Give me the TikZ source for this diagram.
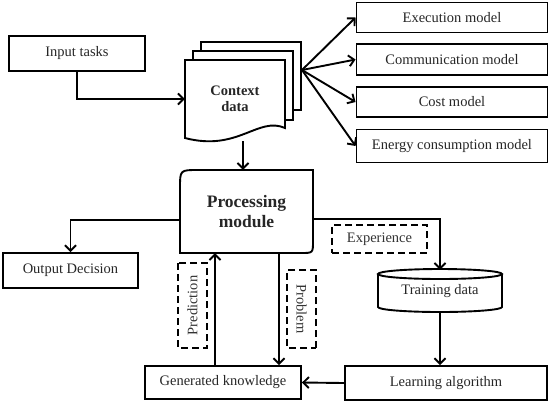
\documentclass[tikz,border=0pt]{standalone}
\usepackage{fontspec}
\setmainfont{Liberation Serif}
\usetikzlibrary{arrows.meta}
\newcommand\myfs{\fontsize{14.5}{17}\selectfont}
\newcommand\mybig{\fontsize{17.5}{20}\selectfont\bfseries}
\tikzset{
  box/.style={draw, line width=1.9pt, rectangle, inner sep=0pt, font=\myfs, text=black!85},
  lbl/.style={draw, line width=1.9pt, dash pattern=on 7pt off 4pt, inner sep=0pt, font=\myfs, text=black!80},
  arr/.style={line width=1.9pt, -{Straight Barb[length=5.5pt,width=11pt,line width=1.9pt]}},
  shp/.style={line width=1.9pt, fill=white},
  plain/.style={inner sep=0pt, align=center}
}
\begin{document}
\begin{tikzpicture}[x=1pt,y=-1pt]
\useasboundingbox[fill=white] (0,0) rectangle (553,408);

% left / right boxes
\node[box, minimum width=136pt, minimum height=35pt] (inp) at (77,53.5) {Input tasks};
\node[box, minimum width=191pt, minimum height=30pt] (exe) at (452,17.5) {Execution model};
\node[box, minimum width=191pt, minimum height=31pt] (com) at (452,59.5) {Communication model};
\node[box, minimum width=191pt, minimum height=30pt] (cost) at (452,102) {Cost model};
\node[box, minimum width=191pt, minimum height=33pt] (ene) at (452,146) {Energy consumption model};

% context data (stacked documents)
\draw[shp] (201,42) rectangle (301,110);
\draw[shp] (193,51) rectangle (293,120);
\draw[shp] (185,60) -- (285,60) -- (285,128) .. controls (258,116) and (238,152) .. (185,138) -- cycle;
\node[plain, minimum width=100pt, minimum height=84pt, font=\myfs\bfseries, text=black!85] (ctx) at (235,99) {Context\\[-1pt]data};
\coordinate (fan) at (302,70);

\draw[arr] (inp.south) |- (ctx.west);
\foreach \t in {exe,com,cost,ene} \draw[arr] (fan) -- (\t.west);

% processing module
\node[plain, minimum width=133pt, minimum height=83pt, font=\mybig, text=black!85] (proc) at (246.5,211.5) {Processing\\module};
\draw[line width=1.9pt] (313,170) -- (198,170) .. controls (180,170) .. (180,188) -- (180,253) -- (301,253) .. controls (313,253) .. (313,241) -- cycle;

\draw[arr] ([xshift=8pt]ctx.south) -- ([xshift=8pt]ctx.south |- proc.north);

% output
\node[box, minimum width=135pt, minimum height=35pt] (out) at (70.5,270.5) {Output Decision};
\draw[arr] ([yshift=-8.5pt]proc.west) -| (out.north);

% learning loop
\node[box, minimum width=156pt, minimum height=33pt] (gen) at (223,382.5) {Generated knowledge};
\node[box, minimum width=202pt, minimum height=34pt] (learn) at (446,383) {Learning algorithm};
\node[plain, minimum width=124pt, minimum height=42pt, font=\myfs, text=black!85] (train) at (440,291) {\raisebox{-2pt}{Training data}};
\draw[line width=1.9pt] (440,274) ellipse [x radius=62pt, y radius=5pt];
\draw[line width=1.9pt] (378,274) -- (378,307) arc[start angle=180, end angle=360, x radius=62pt, y radius=5pt] -- (502,274);

\draw[arr] ([yshift=-7.5pt]proc.east) -| (train.north);
\draw[arr] (train.south) -- (train.south |- learn.north);
\draw[arr] (learn.west) -- (gen.east);
\draw[arr] ([xshift=-8pt]gen.north) -- ([xshift=-8pt]gen.north |- proc.south);
\draw[arr] ([xshift=56pt]gen.north |- proc.south) -- ([xshift=56pt]gen.north);

% dashed labels
\node[lbl, minimum width=95pt, minimum height=28pt] (exp) at (379.5,239) {Experience};
\node[lbl, minimum width=85pt, minimum height=29pt, rotate=90] (pred) at (192.5,305.5) {Prediction};
\node[lbl, minimum width=78pt, minimum height=29pt, rotate=-90] (prob) at (301.5,309) {Problem};
\end{tikzpicture}
\end{document}
